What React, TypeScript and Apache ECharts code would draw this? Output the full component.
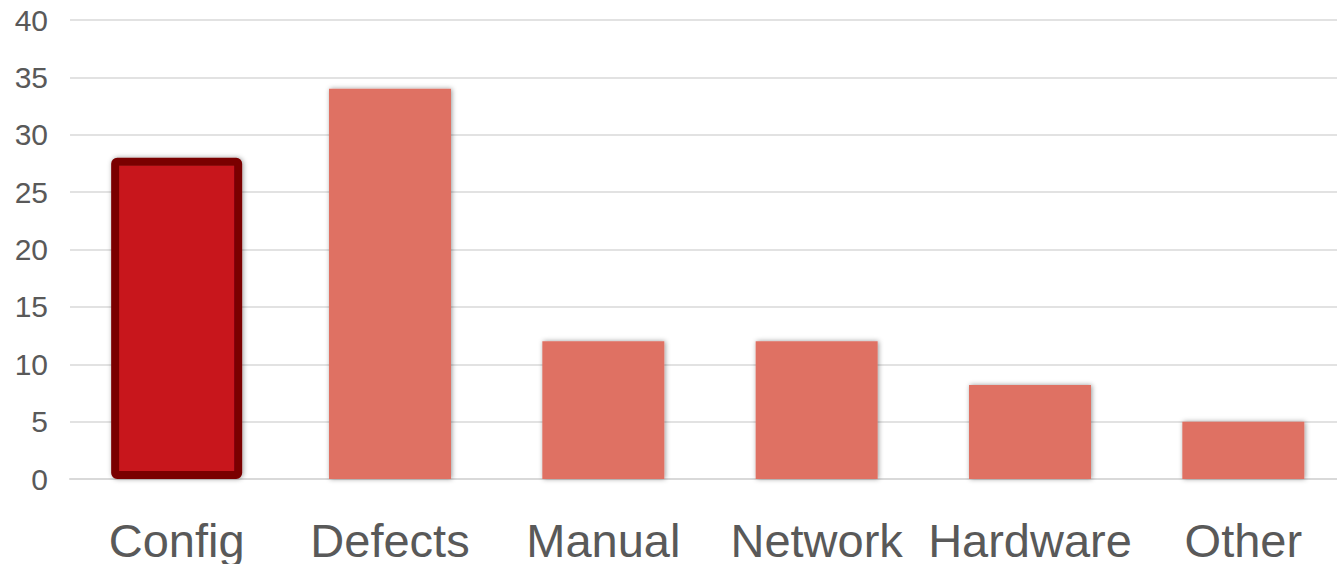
import React, { useEffect, useRef } from "react";
import * as echarts from "echarts";

const categories = ["Config", "Defects", "Manual", "Network", "Hardware", "Other"];
const values = [28, 34, 12, 12, 8.2, 5];
const highlightIndex = 0;
const yTicks = { min: 0, max: 40, interval: 5 };

export default function App() {
  const ref = useRef<HTMLDivElement>(null);
  useEffect(() => {
    document.body.style.margin = "0";
    const chart = echarts.init(ref.current!, null, { renderer: "svg" });
    const normalData = values.map((v, i) => (i === highlightIndex ? "-" : v));
    const highlightData = values.map((v, i) => (i === highlightIndex ? v : "-"));
    const shadow = {
      shadowBlur: 5,
      shadowColor: "rgba(0,0,0,0.4)",
      shadowOffsetX: 1,
      shadowOffsetY: 0,
    };
    chart.setOption({
      animation: false,
      grid: { left: 70, top: 20, right: 0, height: 459, containLabel: false },
      xAxis: [
        {
          type: "category",
          data: categories,
          axisLine: { show: true, lineStyle: { color: "#D9D9D9", width: 2 } },
          axisTick: { show: false },
          axisLabel: {
            color: "#595959",
            fontSize: 47,
            fontFamily: "Liberation Sans, Arial, sans-serif",
            margin: 38,
            interval: 0,
          },
        },
        {
          type: "category",
          data: categories,
          position: "bottom",
          show: false,
        },
      ],
      yAxis: {
        type: "value",
        min: yTicks.min,
        max: yTicks.max,
        interval: yTicks.interval,
        axisLine: { show: false },
        axisTick: { show: false },
        splitLine: { lineStyle: { color: "#D9D9D9", width: 1.5 } },
        axisLabel: {
          color: "#595959",
          fontSize: 30,
          fontFamily: "Liberation Sans, Arial, sans-serif",
          margin: 22,
        },
      },
      series: [
        {
          type: "bar",
          xAxisIndex: 0,
          data: normalData,
          barWidth: 122,
          itemStyle: { color: "#DF7164", ...shadow },
        },
        {
          type: "bar",
          xAxisIndex: 1,
          data: highlightData,
          barWidth: 131,
          itemStyle: {
            color: "#C8161F",
            borderColor: "#7A0404",
            borderWidth: 8,
            borderRadius: 2,
            ...shadow,
          },
        },
      ],
    });
    return () => chart.dispose();
  }, []);
  return (
    <div style={{ width: 1337, height: 564, overflow: "hidden" }}>
      <div ref={ref} style={{ width: 1350, height: 564 }} />
    </div>
  );
}
